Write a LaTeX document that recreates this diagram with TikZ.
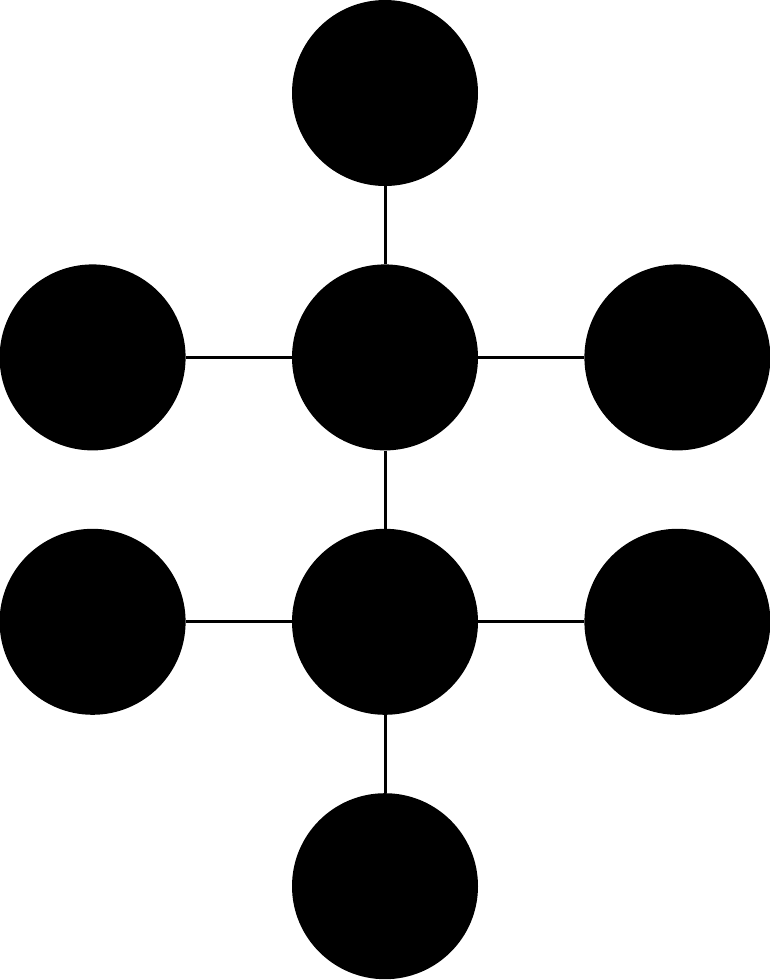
\documentclass[tikz,border=0pt]{standalone}
\usepackage{tikz}
\usetikzlibrary{positioning}
\tikzstyle{atom} = [circle, fill=black, minimum size=186pt, inner sep=0pt]
\tikzstyle{bond} = [line width=3pt, black]
\begin{document}
\begin{tikzpicture}[node distance=78pt and 106pt]
		\useasboundingbox (0,0) rectangle (770pt,-980pt);
		
		%
		% Vertical chain
		\node [atom] at (385pt,-93pt) (top) {};
		\node [atom, below=of top] (c1) {};
		\node [atom, below=of c1] (c2) {};
		\node [atom, below=of c2] (bottom) {};
		
		%
		% Side atoms
		\node [atom, left=of c1] (l1) {};
		\node [atom, right=of c1] (r1) {};
		\node [atom, left=of c2] (l2) {};
		\node [atom, right=of c2] (r2) {};
		
		%
		% Bonds
		\draw [bond] (top) -- (c1);
		\draw [bond] (c1) -- (c2);
		\draw [bond] (c2) -- (bottom);
		\draw [bond] (l1) -- (c1);
		\draw [bond] (c1) -- (r1);
		\draw [bond] (l2) -- (c2);
		\draw [bond] (c2) -- (r2);
	
	\end{tikzpicture}
\end{document}
